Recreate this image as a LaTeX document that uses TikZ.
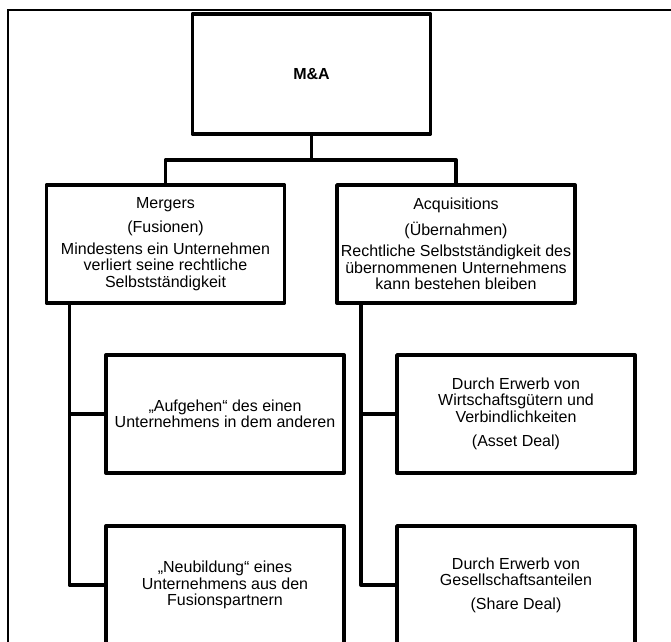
\documentclass[tikz,border=0pt]{standalone}
\usepackage{fontspec}
\setmainfont{Liberation Sans}
\begin{document}
\begin{tikzpicture}[x=1pt,y=-1pt,
  box/.style={draw=black, line width=3.9pt, line join=round, fill=white,
    minimum width=238pt, minimum height=118pt, inner sep=0pt,
    align=center, font=\fontsize{16}{16.5}\selectfont},
  link/.style={draw=black, line width=3.9pt, line join=round, line cap=round},
  frame/.style={draw=black, line width=1.2pt}]
\clip (0,0) rectangle (671,641);
\fill[white] (0,0) rectangle (671,641);
% outer frame (left and top edges)
\draw[frame] (8,700) -- (8,10) -- (680,10);

% top node
\node[box, minimum width=238pt, minimum height=120pt] (ma) at (311.5,74)
  {\textbf{M\&A}};

% second level
\node[box, minimum height=118pt] (mer) at (165.5,244)
  {Mergers\\[8pt](Fusionen)\\[5pt]Mindestens ein Unternehmen\\verliert seine rechtliche\\Selbstständigkeit};
\node[box, minimum height=118pt] (acq) at (456,244)
  {Acquisitions\\[8pt](Übernahmen)\\[5pt]Rechtliche Selbstständigkeit des\\übernommenen Unternehmens\\kann bestehen bleiben};

% third level
\node[box] (auf) at (225,414)
  {„Aufgehen“ des einen\\Unternehmens in dem anderen};
\node[box] (neu) at (225,585)
  {„Neubildung“ eines\\Unternehmens aus den\\Fusionspartnern};
\node[box] (ass) at (516,414)
  {Durch Erwerb von\\Wirtschaftsgütern und\\Verbindlichkeiten\\[8pt](Asset Deal)};
\node[box] (sha) at (516,585)
  {Durch Erwerb von\\Gesellschaftsanteilen\\[7pt](Share Deal)};

% branch points
\coordinate (fork) at (311.5,160);
\coordinate (ltrunk) at ([xshift=-96pt]mer.south);
\coordinate (rtrunk) at ([xshift=-95pt]acq.south);

% connectors
\draw[link] (ma.south) -- (fork);
\draw[link] (mer.north) |- (fork) -| (acq.north);
\draw[link] (ltrunk) |- (auf.west);
\draw[link] (ltrunk) |- (neu.west);
\draw[link] (rtrunk) |- (ass.west);
\draw[link] (rtrunk) |- (sha.west);
\end{tikzpicture}
\end{document}
